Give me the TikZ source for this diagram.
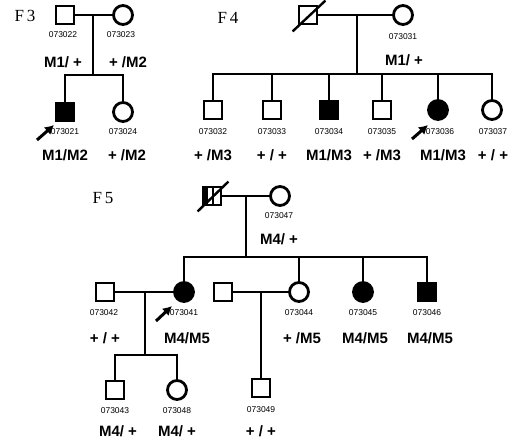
\documentclass[tikz,border=0pt]{standalone}
\usepackage{fontspec}
\setmainfont{Liberation Serif}
\setsansfont{Liberation Sans}
\usetikzlibrary{arrows.meta}

\tikzset{
  male/.style={draw,rectangle,minimum size=18pt,inner sep=0pt,line width=2.8pt},
  female/.style={draw,circle,minimum size=19pt,inner sep=0pt,line width=2.8pt},
  aff/.style={fill=black},
  pid/.style={font=\sffamily\fontsize{8.5}{9}\selectfont,inner sep=0pt},
  geno/.style={font=\sffamily\bfseries\fontsize{15}{16}\selectfont,inner sep=0pt},
  fam/.style={font=\fontsize{17}{18}\selectfont,inner sep=0pt},
  line/.style={line width=2.4pt},
  proband/.style={-{Latex[length=9pt,width=10pt]},line width=3pt},
}

\begin{document}
\begin{tikzpicture}[x=1pt,y=-1pt]
\useasboundingbox (0,0) rectangle (521,440);

% F3
\node[fam] (f3) at (25,16) {F\,3};
\node[male] (p073022) at (65,15) {};
\node[female] (p073023) at (123,15) {};
\node[male,aff] (p073021) at (65,112) {};
\node[female] (p073024) at (123,112) {};
\coordinate (m3) at (93,15);
\coordinate (s3) at (93,75);
\draw[line] (p073022) -- (p073023);
\draw[line] (m3) -- (s3);
\draw[line] (p073021) |- (s3) -| (p073024);
\node[pid] (i073022) at (63,35) {073022};
\node[pid] (i073023) at (121,35) {073023};
\node[geno] (g073022) at (63,62) {M1/ +};
\node[geno] (g073023) at (128,62) {+ /M2};
\node[pid] (i073021) at (65,132) {073021};
\node[pid] (i073024) at (123,132) {073024};
\node[geno] (g073021) at (65,155) {M1/M2};
\node[geno] (g073024) at (127,155) {+ /M2};
\coordinate (a3) at (37,140);
\coordinate (a3h) at (54,125);
\draw[proband] (a3) -- (a3h);

% F4
\node[fam] (f4) at (228,18) {F\,4};
\node[male] (f4dad) at (308,15) {};
\draw[line width=2.4pt] ([shift={(-5pt,-6pt)}]f4dad.south west) -- ([shift={(7pt,4pt)}]f4dad.north east);
\node[female] (p073031) at (403,15) {};
\coordinate (m4) at (357,15);
\coordinate (s4) at (357,74);
\draw[line] (f4dad) -- (p073031);
\draw[line] (m4) -- (s4);
\node[pid] (i073031) at (403,37) {073031};
\node[geno] (g073031) at (404,60) {M1/ +};
\node[male] (p073032) at (213,110) {};
\node[male] (p073033) at (272,110) {};
\node[male,aff] (p073034) at (329,110) {};
\node[male] (p073035) at (382,110) {};
\node[female,aff] (p073036) at (438,110) {};
\node[female] (p073037) at (492,110) {};
\draw[line] (p073032) |- (s4) -| (p073037);
\foreach \c in {p073033,p073034,p073035,p073036}
  \draw[line] (s4 -| \c) -- (\c);
\node[pid] (i073032) at (213,132) {073032};
\node[pid] (i073033) at (272,132) {073033};
\node[pid] (i073034) at (329,132) {073034};
\node[pid] (i073035) at (382,132) {073035};
\node[pid] (i073036) at (440,132) {073036};
\node[pid] (i073037) at (493,132) {073037};
\node[geno] (g073032) at (213,155) {+ /M3};
\node[geno] (g073033) at (272,155) {+ / +};
\node[geno] (g073034) at (329,155) {M1/M3};
\node[geno] (g073035) at (382,155) {+ /M3};
\node[geno] (g073036) at (443,155) {M1/M3};
\node[geno] (g073037) at (493,155) {+ / +};
\coordinate (a4) at (412,139);
\coordinate (a4h) at (428,125);
\draw[proband] (a4) -- (a4h);

% F5
\node[fam] (f5) at (103,198) {F\,5};
\node[male] (f5dad) at (212,196) {};
\fill (f5dad.south west) rectangle ([xshift=6pt]f5dad.north west);
\draw[line width=2pt] ([xshift=1pt]f5dad.north) -- ([xshift=1pt]f5dad.south);
\draw[line width=2.4pt] ([shift={(-4pt,-5pt)}]f5dad.south west) -- ([shift={(6pt,4pt)}]f5dad.north east);
\node[female] (p073047) at (280,196) {};
\coordinate (m5) at (246,196);
\coordinate (s5) at (246,257);
\draw[line] (f5dad) -- (p073047);
\draw[line] (m5) -- (s5);
\node[pid] (i073047) at (279,216) {073047};
\node[geno] (g073047) at (279,239) {M4/ +};
\node[female,aff] (p073041) at (184,292) {};
\node[female] (p073044) at (299,292) {};
\node[female,aff] (p073045) at (363,292) {};
\node[male,aff] (p073046) at (427,292) {};
\draw[line] (p073041) |- (s5) -| (p073046);
\foreach \c in {p073044,p073045}
  \draw[line] (s5 -| \c) -- (\c);
\node[male] (p073042) at (105,292) {};
\node[male] (f5mate) at (223,292) {};
\draw[line] (p073042) -- (p073041);
\draw[line] (f5mate) -- (p073044);
\node[pid] (i073042) at (104,313) {073042};
\node[pid] (i073041) at (184,313) {073041};
\node[pid] (i073044) at (299,313) {073044};
\node[pid] (i073045) at (363,313) {073045};
\node[pid] (i073046) at (427,313) {073046};
\node[geno] (g073042) at (105,338) {+ / +};
\node[geno] (g073041) at (187,338) {M4/M5};
\node[geno] (g073044) at (302,338) {+ /M5};
\node[geno] (g073045) at (365,338) {M4/M5};
\node[geno] (g073046) at (430,338) {M4/M5};
\coordinate (a5) at (156,321);
\coordinate (a5h) at (172,306);
\draw[proband] (a5) -- (a5h);
\coordinate (m6) at (145,292);
\coordinate (s6) at (145,355);
\node[male] (p073043) at (115,390) {};
\node[female] (p073048) at (177,390) {};
\draw[line] (m6) -- (s6);
\draw[line] (p073043) |- (s6) -| (p073048);
\coordinate (m7) at (261,292);
\node[male] (p073049) at (261,388) {};
\draw[line] (m7) -- (p073049);
\node[pid] (i073043) at (115,411) {073043};
\node[pid] (i073048) at (177,411) {073048};
\node[pid] (i073049) at (261,410) {073049};
\node[geno] (g073043) at (118,431) {M4/ +};
\node[geno] (g073048) at (177,431) {M4/ +};
\node[geno] (g073049) at (261,431) {+ / +};
\end{tikzpicture}
\end{document}
